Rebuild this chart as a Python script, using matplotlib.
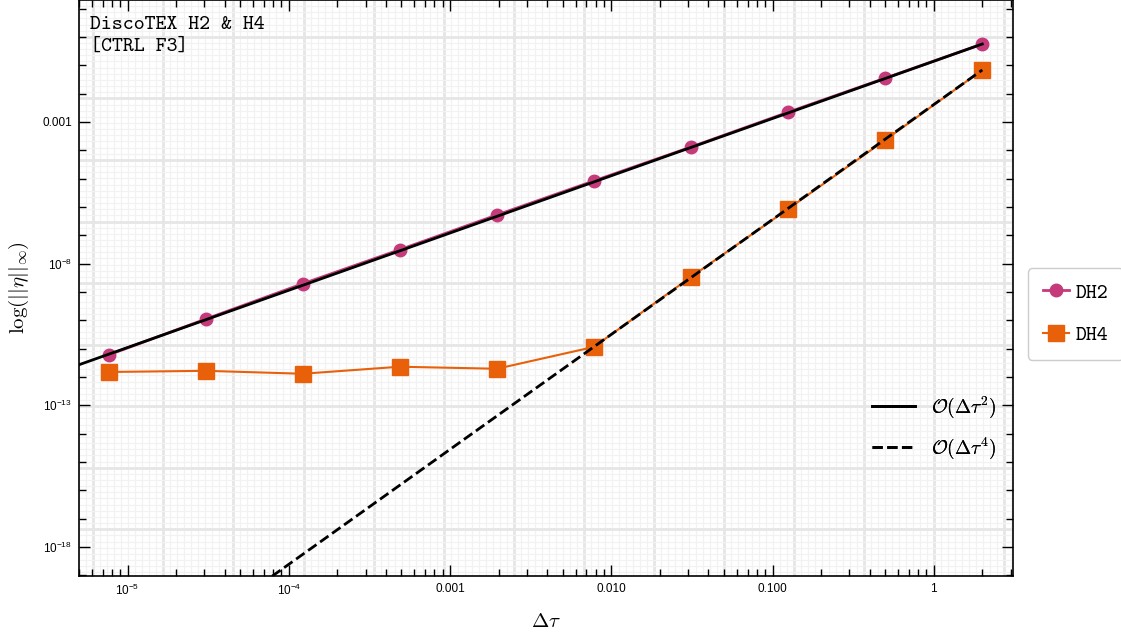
import numpy as np
import matplotlib
matplotlib.use("Agg")
import matplotlib.pyplot as plt
from matplotlib.ticker import FixedLocator, FixedFormatter, NullFormatter
from matplotlib.lines import Line2D

plt.rcParams['mathtext.fontset'] = 'cm'
plt.rcParams['font.family'] = ['Liberation Sans', 'DejaVu Sans']

# --- data ---
dtau = [7.63e-6, 3.05e-5, 1.22e-4, 4.88e-4, 1.953e-3, 7.8125e-3, 0.03125, 0.125, 0.5, 2.0]
err_dh2 = [6.0e-12, 1.1e-10, 1.95e-9, 3.1e-8, 5.2e-7, 8.3e-6, 1.3e-4, 2.2e-3, 3.5e-2, 0.56]
err_dh4 = [1.5e-12, 1.65e-12, 1.3e-12, 2.3e-12, 1.95e-12, 1.15e-11, 3.4e-9, 8.5e-7, 2.3e-4, 0.068]

# reference slopes (end points)
ref_x = [5e-6, 2.0]
ref2_y = [2.7e-12, 0.56]
ref4_y = [1.3e-24, 0.068]

xticks = [1e-5, 1e-4, 1e-3, 1e-2, 1e-1, 1]
xticklabels = [r'$\mathdefault{10^{-5}}$', r'$\mathdefault{10^{-4}}$', '0.001', '0.010', '0.100', '1']
yticks = [1e-18, 1e-13, 1e-8, 1e-3]
yticklabels = [r'$\mathdefault{10^{-18}}$', r'$\mathdefault{10^{-13}}$', r'$\mathdefault{10^{-8}}$', '0.001']

c_dh2 = '#C43A7A'
c_dh4 = '#E8600A'

fig = plt.figure(figsize=(11.21, 6.35), dpi=100)
ax = fig.add_axes([79/1121, 1 - 576/635, (1013 - 79)/1121, 576/635])
ax.set_xscale('log')
ax.set_yscale('log')
ax.set_xlim(5e-6, 3.1)
ax.set_ylim(9.5e-20, 20)

# graph-paper background (natural-log spaced grid)
for k in range(-125, 12):
    major = (k % 10 == 0)
    ax.axvline(np.exp(k / 10), color='#e6e6e6' if major else '#f2f2f2',
               lw=2.0 if major else 0.9, zorder=0)
for k in range(-88, 8):
    major = (k % 10 == 0)
    ax.axhline(np.exp(k / 2), color='#e6e6e6' if major else '#f2f2f2',
               lw=2.0 if major else 0.9, zorder=0)

ax.plot(dtau, err_dh2, '-o', color=c_dh2, lw=2, ms=9, zorder=3)
ax.plot(dtau, err_dh4, '-s', color=c_dh4, lw=1.5, ms=11, zorder=3)
ax.plot(ref_x, ref2_y, '-', color='black', lw=2, zorder=4)
ax.plot(ref_x, ref4_y, '--', color='black', lw=2, zorder=4)

# ticks
ax.xaxis.set_major_locator(FixedLocator(xticks))
ax.xaxis.set_major_formatter(FixedFormatter(xticklabels))
ax.xaxis.set_minor_formatter(NullFormatter())
ax.yaxis.set_major_locator(FixedLocator(yticks))
ax.yaxis.set_major_formatter(FixedFormatter(yticklabels))
ax.yaxis.set_minor_locator(FixedLocator([10.0**k for k in range(-20, 3)]))
ax.yaxis.set_minor_formatter(NullFormatter())
ax.tick_params(which='both', direction='in', top=True, right=True, labelsize=8.5, pad=5)
ax.tick_params(which='major', length=8, width=1)
ax.tick_params(which='minor', length=5, width=1)
for s in ax.spines.values():
    s.set_linewidth(1.2)

ax.set_xlabel(r'$\Delta\tau$', fontsize=15, labelpad=10)
ax.set_ylabel(r'$\log(||\eta||_\infty)$', fontsize=15, labelpad=8)

ax.text(0.012, 0.972, 'DiscoTEX H2 & H4\n[CTRL F3]', transform=ax.transAxes,
        family='cmtt10', fontsize=15, va='top', ha='left', linespacing=1.3)

# legend for the reference slopes
ref_handles = [Line2D([], [], color='black', lw=2, ls='-'),
               Line2D([], [], color='black', lw=2, ls='--')]
leg_ref = ax.legend(ref_handles, [r'$\mathcal{O}(\Delta\tau^2)$', r'$\mathcal{O}(\Delta\tau^4)$'],
                    loc='lower right', bbox_to_anchor=(1.0, 0.17), frameon=False,
                    fontsize=14, handlelength=2.2, labelspacing=0.8)
ax.add_artist(leg_ref)

# legend for the schemes, outside on the right
dh_handles = [Line2D([], [], color=c_dh2, marker='o', ms=9, lw=2),
              Line2D([], [], color=c_dh4, marker='s', ms=11, lw=1.5)]
fig.legend(dh_handles, ['DH2', 'DH4'], loc='center left',
           bbox_to_anchor=(1028/1121, 1 - 314/635), borderaxespad=0,
           prop={'family': 'cmtt10', 'size': 15}, handlelength=1.25,
           handletextpad=0.35, labelspacing=1.1, borderpad=0.7,
           fancybox=True, edgecolor='#cccccc', framealpha=1)

fig.savefig('out.png', dpi=100)
